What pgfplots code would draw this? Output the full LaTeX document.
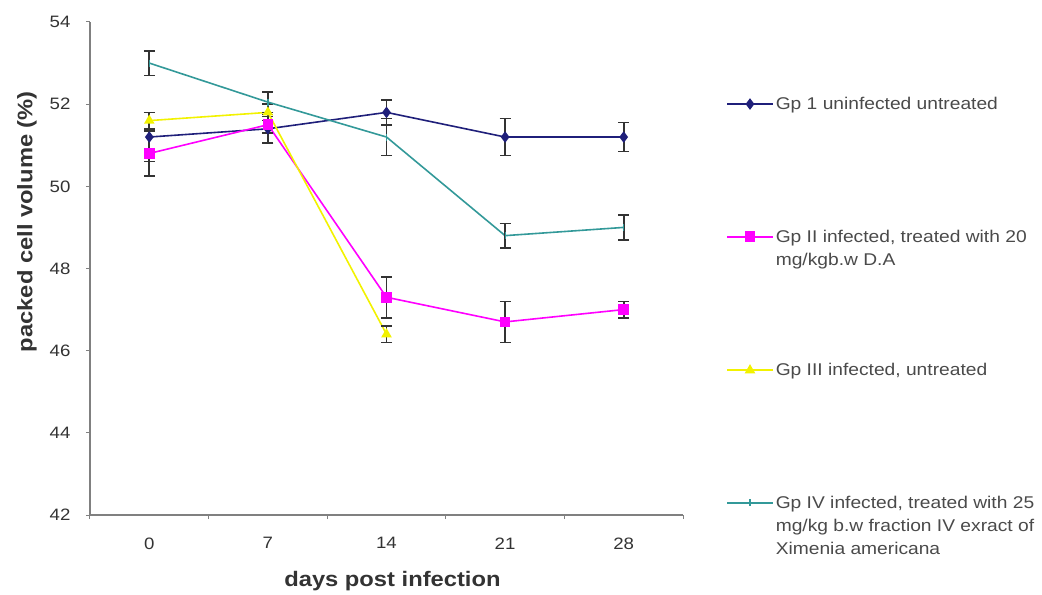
\documentclass[border=0pt]{standalone}
\usepackage{pgfplots}
\pgfplotsset{compat=1.18}
\usepackage{fontspec}
\setmainfont{Liberation Sans}[FakeStretch=1.13]
\definecolor{gpone}{HTML}{1F1F7A}
\definecolor{gptwo}{HTML}{FF00FF}
\definecolor{gpthree}{HTML}{F2F200}
\definecolor{gpfour}{HTML}{339999}
\definecolor{axgray}{HTML}{808080}
\definecolor{txtgray}{HTML}{333333}
\definecolor{leggray}{HTML}{4A4A4A}
\definecolor{errc}{HTML}{333333}
\newcommand{\ls}{\rule[-5bp]{0pt}{16.5bp}}
\newcommand{\blankrow}{\addlegendimage{empty legend}\addlegendentry{\ls}}
\newcommand{\textrow}[1]{\addlegendimage{empty legend}\addlegendentry{\ls #1}}
\begin{document}
\begin{tikzpicture}
\begin{axis}[
  name=ax,
  scale only axis,
  width=593bp, height=493bp,
  xmin=-0.5, xmax=4.5,
  ymin=42, ymax=54,
  ytick={42,44,...,54},
  minor ytick={42,44,...,54},
  xtick={0,1,2,3,4},
  xticklabels={0,7,14,21,28},
  minor xtick={-0.5,0.5,1.5,2.5,3.5,4.5},
  axis x line*=bottom, axis y line*=left,
  axis line style={axgray, line width=1.1bp},
  tick style={axgray, line width=1bp},
  tick align=outside,
  major tick length=0bp,
  minor tick length=4bp,
  /pgf/number format/assume math mode=true,
  ticklabel style={font=\fontsize{16.5bp}{18bp}\selectfont, text=txtgray},
  xticklabel style={yshift=-19bp},
  yticklabel style={xshift=-16bp},
  xlabel={\textbf{days post infection}},
  ylabel={\textbf{packed cell volume (\%)}},
  label style={font=\fontsize{21bp}{23bp}\selectfont, text=txtgray},
  xlabel style={at={([yshift=-66bp]rel axis cs:0.51,0)}, anchor=center},
  ylabel style={at={([xshift=-63bp]rel axis cs:0,0.595)}, anchor=center},
  legend style={at={([xshift=43bp,yshift=-73bp]rel axis cs:1,1)}, anchor=north west,
    draw=none, fill=none, inner sep=0pt, row sep=5bp,
    font=\fontsize{17bp}{20.5bp}\selectfont, text=leggray,
    cells={anchor=base west},
    /tikz/every even column/.append style={column sep=5bp}},
  legend image code/.code={\draw[mark repeat=2,mark phase=2,#1] plot coordinates {(0bp,5.5bp)(23bp,5.5bp)(46bp,5.5bp)};},
  every axis plot/.append style={line width=1.6bp},
  error bars/y dir=both, error bars/y explicit,
  error bars/error bar style={errc, line width=1.6bp},
  error bars/error mark options={rotate=90, mark size=5.5bp, errc, line width=1.6bp},
  clip=false,
]
\addplot[gpone, mark=diamond*, mark size=4.5bp, mark options={fill=gpone}] coordinates {
  (0,51.2) +- (0,0.6)
  (1,51.4) +- (0,0.35)
  (2,51.8) +- (0,0.3)
  (3,51.2) +- (0,0.45)
  (4,51.2) +- (0,0.35)
};
\addlegendentry{\ls Gp 1 uninfected untreated}
\blankrow\blankrow\blankrow\blankrow\blankrow
\addplot[gptwo, mark=square*, mark size=4.5bp, mark options={fill=gptwo}] coordinates {
  (0,50.8) +- (0,0.55)
  (1,51.5) +- (0,0.2)
  (2,47.3) +- (0,0.5)
  (3,46.7) +- (0,0.5)
  (4,47.0) +- (0,0.2)
};
\addlegendentry{\ls Gp II infected, treated with 20}
\textrow{mg/kgb.w D.A}
\blankrow\blankrow\blankrow\blankrow
\addplot[gpthree, mark=triangle*, mark size=4.5bp, mark options={fill=gpthree}] coordinates {
  (0,51.6) +- (0,0.2)
  (1,51.8) +- (0,0.2)
  (2,46.4) +- (0,0.2)
};
\addlegendentry{\ls Gp III infected, untreated}
\blankrow\blankrow\blankrow\blankrow\blankrow
\addplot[gpfour, mark=|, mark size=3.5bp, mark options={line width=1.2bp}] coordinates {
  (0,53.0) +- (0,0.3)
  (1,52.05) +- (0,0.25)
  (2,51.2) +- (0,0.45)
  (3,48.8) +- (0,0.3)
  (4,49.0) +- (0,0.3)
};
\addlegendentry{\ls Gp IV infected, treated with 25}
\textrow{mg/kg b.w fraction IV exract of}
\textrow{Ximenia americana}
\end{axis}
\path[use as bounding box] ([xshift=-90bp,yshift=-79bp]ax.south west) rectangle ([xshift=359bp,yshift=22bp]ax.north east);
\end{tikzpicture}
\end{document}
